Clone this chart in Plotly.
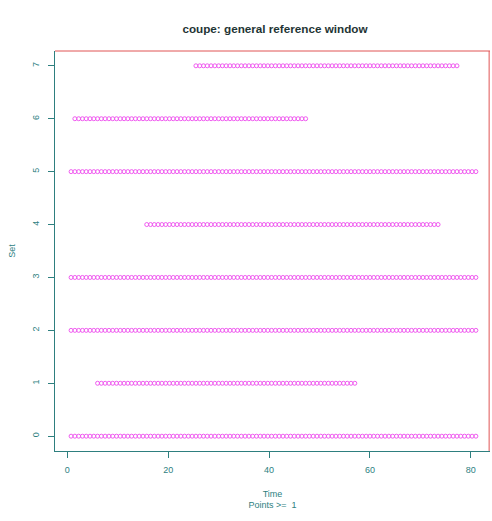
import plotly.graph_objects as go

# ---- data ----
TIMES = [0.75, 1.5, 2.25, 3, 3.75, 4.5, 5.25, 6, 6.75, 7.5, 8.25, 9, 9.75, 10.5, 11.25, 12,
         12.75, 13.5, 14.25, 15, 15.75, 16.5, 17.25, 18, 18.75, 19.5, 20.25, 21, 21.75, 22.5,
         23.25, 24, 24.75, 25.5, 26.25, 27, 27.75, 28.5, 29.25, 30, 30.75, 31.5, 32.25, 33,
         33.75, 34.5, 35.25, 36, 36.75, 37.5, 38.25, 39, 39.75, 40.5, 41.25, 42, 42.75, 43.5,
         44.25, 45, 45.75, 46.5, 47.25, 48, 48.75, 49.5, 50.25, 51, 51.75, 52.5, 53.25, 54,
         54.75, 55.5, 56.25, 57, 57.75, 58.5, 59.25, 60, 60.75, 61.5, 62.25, 63, 63.75, 64.5,
         65.25, 66, 66.75, 67.5, 68.25, 69, 69.75, 70.5, 71.25, 72, 72.75, 73.5, 74.25, 75,
         75.75, 76.5, 77.25, 78, 78.75, 79.5, 80.25, 81]
SETS = [0, 1, 2, 3, 4, 5, 6, 7]
SET_START = [0.75, 6.0, 0.75, 0.75, 15.75, 0.75, 1.5, 25.5]
SET_END = [81, 57.0, 81, 81, 73.5, 81, 47.25, 77.25]
X_TICKS = [0, 20, 40, 60, 80]
Y_TICKS = [0, 1, 2, 3, 4, 5, 6, 7]

TEAL = "#2e7f7f"
RED = "#e05555"
MAG = "#f05af0"

xs, ys = [], []
for s, a, b in zip(SETS, SET_START, SET_END):
    for t in TIMES:
        if a <= t <= b:
            xs.append(t)
            ys.append(s)

fig = go.Figure()
fig.add_trace(go.Scatter(
    x=xs, y=ys, mode="markers",
    marker=dict(symbol="circle-open", size=4, color=MAG, line=dict(width=1, color=MAG)),
    showlegend=False, hoverinfo="x+y",
))

font = dict(family="Liberation Sans, Arial, sans-serif", size=9, color=TEAL)

W, H = 492, 521
fig.update_layout(
    width=W, height=H,
    margin=dict(l=55, r=2, t=51, b=70),
    paper_bgcolor="white", plot_bgcolor="white",
    font=font,
    xaxis=dict(
        range=[-2.44, 83.8], tickvals=X_TICKS, ticks="outside", ticklen=6,
        tickcolor=TEAL, tickwidth=1, showgrid=False, zeroline=False, automargin=False,
        showline=True, linecolor=TEAL, linewidth=1,
        tickfont=dict(size=9, color=TEAL), ticklabelstandoff=4,
        title=dict(text="Time<br>Points >=\u00a0\u00a01", font=dict(size=9, color=TEAL), standoff=16),
    ),
    yaxis=dict(
        range=[-0.28, 7.28], tickvals=Y_TICKS, ticks="outside", ticklen=6,
        tickcolor=TEAL, tickwidth=1, showgrid=False, zeroline=False, automargin=False,
        showline=True, linecolor=TEAL, linewidth=1, tickangle=-90,
        tickfont=dict(size=9, color=TEAL), ticklabelstandoff=5,
        title=dict(text="Set", font=dict(size=9, color=TEAL), standoff=14),
    ),
    title=dict(text="<b>coupe: general reference window</b>", x=275 / W, xanchor="center",
               y=1 - 29 / H, yanchor="middle",
               font=dict(family="Liberation Sans, Arial, sans-serif", size=11.7, color="#1f3535")),
    shapes=[
        dict(type="line", xref="paper", yref="paper", x0=0, x1=1, y0=1, y1=1,
             line=dict(color=RED, width=1), layer="above"),
        dict(type="line", xref="paper", yref="paper", x0=0.998, x1=0.998, y0=0, y1=1,
             line=dict(color=RED, width=1), layer="above"),
    ],
)

fig.write_html(
    "out.html",
    config={"displayModeBar": False},
    post_script="document.body.style.margin='0';document.body.style.overflow='hidden';",
)
